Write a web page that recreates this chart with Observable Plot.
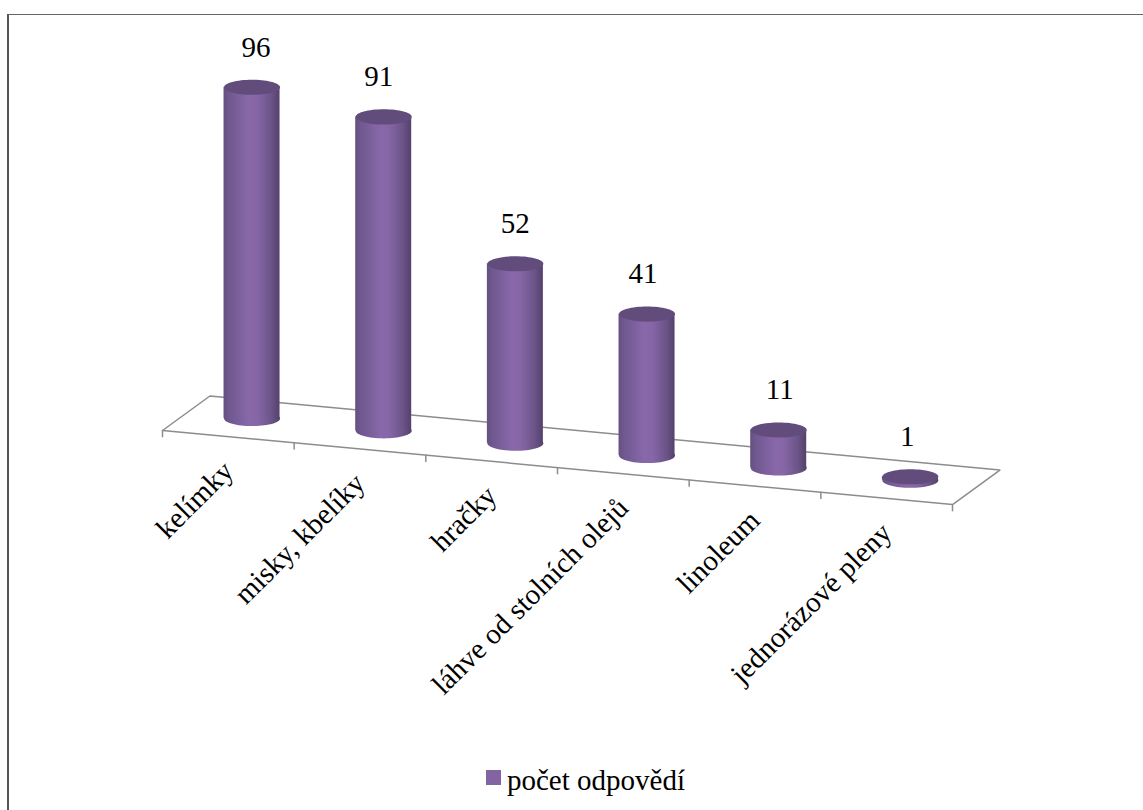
<!DOCTYPE html>
<html lang="cs">
<head>
<meta charset="utf-8">
<script src="https://cdn.jsdelivr.net/npm/d3@7"></script>
<script src="https://cdn.jsdelivr.net/npm/@observablehq/plot@0.6"></script>
<style>
  html, body { margin: 0; background: #fff; width: 1143px; height: 810px; overflow: hidden; }
  #border { position: absolute; left: 7px; top: 14px; right: 0; bottom: 0; box-sizing: border-box;
            border-left: 2px solid #555; border-top: 1.5px solid #666; }
  #chart { position: absolute; left: 0; top: 0; }
  #chart svg { display: block; background: transparent; }
  #legend { position: absolute; left: 486px; top: 762px; height: 36px; display: flex; align-items: center;
            font: 29px "Liberation Serif", serif; color: #000; white-space: nowrap; }
  #legend i { display: inline-block; width: 15px; height: 15px; background: #8264a2; margin-right: 6px; position: relative; top: -3px; }
</style>
</head>
<body>
<div id="border"></div>
<div id="chart"></div>
<div id="legend"><i></i><span>počet odpovědí</span></div>
<script>
const categories = ["kelímky", "misky, kbelíky", "hračky", "láhve od stolních olejů", "linoleum", "jednorázové pleny"];
const values = [96, 91, 52, 41, 11, 1];

// Nudges that keep each value label where it sits beside its cylinder (pixels).
const labelNudge = [4, -5, 0, -4, 1, -3];

const serif = "Liberation Serif, serif";
const svgHeight = 750;
const pxPerUnit = 3.45;      // one answer in pixels along y
const pxPerCategory = 131.67;
const floorDrop = 3.58;      // the floor falls by this many units per category
const frontOffset = -3.48;   // front edge of the floor relative to the first base
const backShift = [0.36, 10]; // depth of the floor in [category, unit] space
const radius = 28;
const halfWidth = radius / pxPerCategory;

const rows = categories.map((name, i) => ({
  name,
  value: values[i],
  slot: i + 0.5,
  cx: i + 0.5 + backShift[0] / 2,
  base: -floorDrop * i,
  top: -floorDrop * i + values[i],
  nudge: labelNudge[i] / pxPerCategory
}));

const frontY = (x) => frontOffset - floorDrop * x;
const floor = [
  [0, frontY(0)],
  [6, frontY(6)],
  [6 + backShift[0], frontY(6) + backShift[1]],
  [backShift[0], frontY(0) + backShift[1]],
  [0, frontY(0)]
];
const ticks = d3.range(0, 7);

// Flattened circle used for the caps of the cylinders.
const ellipse = {
  draw(context, size) {
    const rx = Math.sqrt(size / Math.PI);
    const ry = rx * 0.27;
    const k = 0.5523;
    context.moveTo(-rx, 0);
    context.bezierCurveTo(-rx, -k * ry, -k * rx, -ry, 0, -ry);
    context.bezierCurveTo(k * rx, -ry, rx, -k * ry, rx, 0);
    context.bezierCurveTo(rx, k * ry, k * rx, ry, 0, ry);
    context.bezierCurveTo(-k * rx, ry, -rx, k * ry, -rx, 0);
    context.closePath();
  }
};

// Horizontal shading that makes the bars read as round.
const shading = () => {
  const ns = "http://www.w3.org/2000/svg";
  const defs = document.createElementNS(ns, "defs");
  const gradient = document.createElementNS(ns, "linearGradient");
  gradient.setAttribute("id", "cylinder");
  [[0, "#66507f"], [0.1, "#705890"], [0.45, "#8868a9"], [0.6, "#8666a6"], [0.85, "#6b5488"], [1, "#54416b"]].forEach(([o, c]) => {
    const stop = document.createElementNS(ns, "stop");
    stop.setAttribute("offset", o);
    stop.setAttribute("stop-color", c);
    gradient.appendChild(stop);
  });
  defs.appendChild(gradient);
  return defs;
};

const chart = Plot.plot({
  width: 1143,
  height: svgHeight,
  x: { domain: [0, 6], range: [162, 952], axis: null },
  y: { domain: [(418 - svgHeight) / pxPerUnit, 418 / pxPerUnit], range: [svgHeight, 0], axis: null },
  marks: [
    shading,
    Plot.line(floor, { x: (d) => d[0], y: (d) => d[1], stroke: "#8c8c8c", strokeWidth: 1.5 }),
    Plot.ruleX(ticks, { x: (d) => d, y1: (d) => frontY(d), y2: (d) => frontY(d) - 2.1, stroke: "#8c8c8c", strokeWidth: 1.5 }),
    Plot.dot(rows, { x: "cx", y: "base", r: radius, symbol: ellipse, fill: "url(#cylinder)" }),
    Plot.rectY(rows, { x1: (d) => d.cx - halfWidth, x2: (d) => d.cx + halfWidth, y1: "base", y2: "top", fill: "url(#cylinder)" }),
    Plot.dot(rows, { x: "cx", y: "top", r: radius, symbol: ellipse, fill: "#624c7c" }),
    Plot.text(rows, {
      x: (d) => d.cx + d.nudge,
      y: "top",
      text: (d) => String(d.value),
      dy: -40,
      fontFamily: serif,
      fontSize: 29,
      fill: "#000"
    }),
    Plot.text(rows, {
      x: "slot",
      y: (d) => d.base - 13.8,
      text: "name",
      rotate: -45,
      textAnchor: "end",
      fontFamily: serif,
      fontSize: 29,
      fill: "#000"
    })
  ]
});
document.getElementById("chart").appendChild(chart);
</script>
</body>
</html>
